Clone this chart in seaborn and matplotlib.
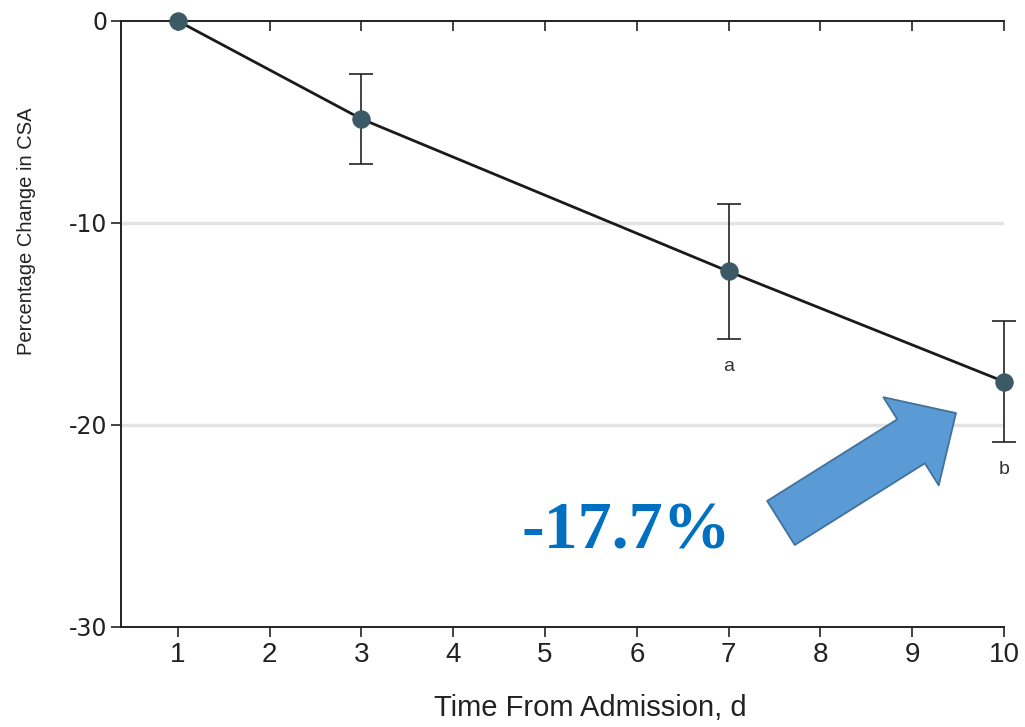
import matplotlib
matplotlib.use("Agg")
import matplotlib.pyplot as plt
import seaborn as sns
import pandas as pd
import numpy as np

# Data
days = [1, 3, 7, 10]
pct_change = [0.0, -4.85, -12.4, -17.85]
err = [0.0, 2.25, 3.35, 3.0]
sig_labels = ["", "", "a", "b"]
x_ticks = list(range(1, 11))
y_ticks = [0, -10, -20, -30]
annot_text = "-17.7%"

sns.set_theme(style="white")
narrow = ["Liberation Sans", "DejaVu Sans"]
plt.rcParams["font.family"] = narrow

fig = plt.figure(figsize=(10.25, 7.27), dpi=100)
ax = fig.add_axes([121/1025, 1 - 627/727, (1004-121)/1025, (627-21)/727])

df = pd.DataFrame({"day": days, "pct": pct_change})

# grid lines at -10, -20
for yv in y_ticks[1:3]:
    ax.axhline(yv, color="#e3e3e3", lw=2.5, zorder=0)

ax.errorbar(days, pct_change, yerr=err, fmt="none",
            ecolor="#222222", elinewidth=1.2, capsize=8.6, capthick=1.2, zorder=2,
            clip_on=False)
sns.lineplot(data=df, x="day", y="pct", ax=ax, color="#1a1a1a", lw=2.0,
             marker="o", markersize=12.5, markerfacecolor="#3b5a66",
             markeredgecolor="#3b5a66", zorder=3, clip_on=False)

for d, v, e, lab in zip(days, pct_change, err, sig_labels):
    if lab:
        ax.annotate(lab, xy=(d, v - e), xytext=(0, -20), textcoords="offset points",
                    ha="center", va="center", fontsize=14, color="#333333",
                    family=narrow)

ax.set_xlim(0.38, 10)
ax.set_ylim(-30, 0)
ax.set_xticks(x_ticks)
ax.set_yticks(y_ticks)
ax.set_xticklabels([str(t) for t in x_ticks])
ax.set_yticklabels([str(t) for t in y_ticks])

for s in ["left", "bottom", "top"]:
    ax.spines[s].set_visible(True)
    ax.spines[s].set_color("#222222")
    ax.spines[s].set_linewidth(1.4)
ax.spines["right"].set_visible(False)

ax.tick_params(axis="x", which="both", bottom=True, top=False, direction="out",
               length=7, width=1.2, color="#222222", pad=4, labelsize=20, labelcolor="#222222")
ax.tick_params(axis="y", which="both", left=True, direction="out",
               length=7, width=1.2, color="#222222", pad=3, labelsize=17, labelcolor="#222222",
               labelfontfamily="DejaVu Sans")

ax.set_xlabel("Time From Admission, d", fontsize=21, color="#222222")
ax.set_ylabel("Percentage Change in CSA", fontsize=14.5, color="#222222")
ax.xaxis.set_label_coords(0.532, -0.134)
ax.yaxis.set_label_coords(-0.107, 0.653)
ax.xaxis.label.set_va("center")
ax.yaxis.label.set_va("center")

# top ticks point downward (inward)
secax = ax.secondary_xaxis("top")
secax.set_xticks(x_ticks)
secax.tick_params(axis="x", direction="in", length=7, width=1.2, color="#222222", labeltop=False)
secax.spines["top"].set_visible(False)

ax.annotate("", xy=(9.477, -19.41), xytext=(7.57, -24.85),
            arrowprops=dict(arrowstyle="simple,head_length=3.82,head_width=7.49,tail_width=3.74",
                            mutation_scale=10, fc="#5b9bd5", ec="#41719c", lw=1.3,
                            shrinkA=0, shrinkB=0), zorder=4)

ax.text(5.88, -25.3, annot_text, ha="center", va="center", fontsize=49,
        fontweight="bold", color="#0070c0", family=["Liberation Serif", "DejaVu Serif"])

fig.savefig("out.png", dpi=100)
